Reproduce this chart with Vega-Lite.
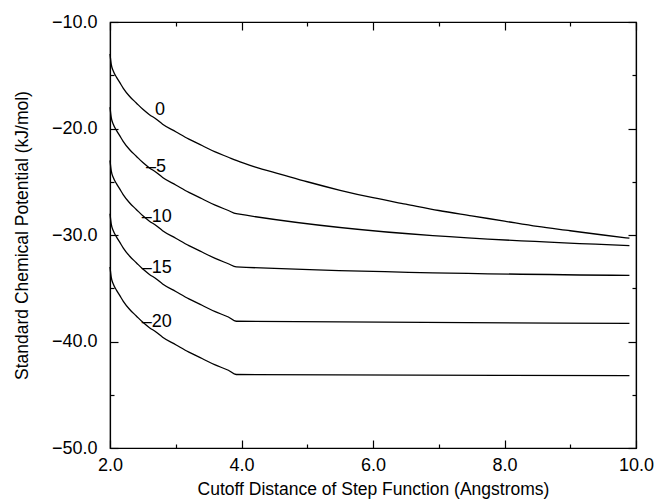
{
  "$schema": "https://vega.github.io/schema/vega-lite/v6.json",
  "autosize": "none",
  "width": 526,
  "height": 426,
  "padding": {"left": 110, "top": 22, "right": 18, "bottom": 51},
  "background": "white",
  "config": {
    "view": {"stroke": "black", "strokeWidth": 1.2},
    "font": "Liberation Sans",
    "axis": {
      "domainColor": "black",
      "domainWidth": 1.2,
      "tickColor": "black",
      "tickWidth": 1.2,
      "grid": false,
      "labelFont": "Liberation Sans",
      "labelFontSize": 18,
      "labelColor": "black",
      "titleFont": "Liberation Sans",
      "titleFontSize": 17.5,
      "titleFontWeight": "normal",
      "titleColor": "black",
      "labelFlush": false,
      "labelOverlap": false
    }
  },
  "datasets": {
    "curves": [
      {"s": "0", "x": 2.0, "y": -13.0},
      {"s": "0", "x": 2.02, "y": -14.0},
      {"s": "0", "x": 2.05, "y": -14.6},
      {"s": "0", "x": 2.1, "y": -15.2},
      {"s": "0", "x": 2.15, "y": -15.7},
      {"s": "0", "x": 2.2, "y": -16.2},
      {"s": "0", "x": 2.3, "y": -17.0},
      {"s": "0", "x": 2.4, "y": -17.6},
      {"s": "0", "x": 2.5, "y": -18.2},
      {"s": "0", "x": 2.6, "y": -18.7},
      {"s": "0", "x": 2.7, "y": -19.1},
      {"s": "0", "x": 2.8, "y": -19.6},
      {"s": "0", "x": 3.0, "y": -20.3},
      {"s": "0", "x": 3.2, "y": -21.0},
      {"s": "0", "x": 3.4, "y": -21.6},
      {"s": "0", "x": 3.6, "y": -22.2},
      {"s": "0", "x": 3.8, "y": -22.7},
      {"s": "0", "x": 3.92, "y": -23.0},
      {"s": "0", "x": 4.2, "y": -23.6},
      {"s": "0", "x": 4.6, "y": -24.3},
      {"s": "0", "x": 5.0, "y": -25.0},
      {"s": "0", "x": 5.5, "y": -25.8},
      {"s": "0", "x": 6.0, "y": -26.5},
      {"s": "0", "x": 6.5, "y": -27.1},
      {"s": "0", "x": 7.0, "y": -27.7},
      {"s": "0", "x": 7.5, "y": -28.2},
      {"s": "0", "x": 8.0, "y": -28.7},
      {"s": "0", "x": 8.5, "y": -29.2},
      {"s": "0", "x": 9.0, "y": -29.6},
      {"s": "0", "x": 9.5, "y": -30.0},
      {"s": "0", "x": 9.9, "y": -30.3},

      {"s": "-5", "x": 2.0, "y": -18.0},
      {"s": "-5", "x": 2.02, "y": -19.0},
      {"s": "-5", "x": 2.05, "y": -19.6},
      {"s": "-5", "x": 2.1, "y": -20.2},
      {"s": "-5", "x": 2.15, "y": -20.7},
      {"s": "-5", "x": 2.2, "y": -21.2},
      {"s": "-5", "x": 2.3, "y": -22.0},
      {"s": "-5", "x": 2.4, "y": -22.6},
      {"s": "-5", "x": 2.5, "y": -23.2},
      {"s": "-5", "x": 2.6, "y": -23.7},
      {"s": "-5", "x": 2.7, "y": -24.1},
      {"s": "-5", "x": 2.8, "y": -24.6},
      {"s": "-5", "x": 3.0, "y": -25.3},
      {"s": "-5", "x": 3.2, "y": -26.0},
      {"s": "-5", "x": 3.4, "y": -26.6},
      {"s": "-5", "x": 3.6, "y": -27.2},
      {"s": "-5", "x": 3.8, "y": -27.7},
      {"s": "-5", "x": 3.92, "y": -28.0},
      {"s": "-5", "x": 9.9, "y": -31.0},

      {"s": "-10", "x": 2.0, "y": -23.0},
      {"s": "-10", "x": 2.02, "y": -24.0},
      {"s": "-10", "x": 2.05, "y": -24.6},
      {"s": "-10", "x": 2.1, "y": -25.2},
      {"s": "-10", "x": 2.15, "y": -25.7},
      {"s": "-10", "x": 2.2, "y": -26.2},
      {"s": "-10", "x": 2.3, "y": -27.0},
      {"s": "-10", "x": 2.4, "y": -27.6},
      {"s": "-10", "x": 2.5, "y": -28.2},
      {"s": "-10", "x": 2.6, "y": -28.7},
      {"s": "-10", "x": 2.7, "y": -29.1},
      {"s": "-10", "x": 2.8, "y": -29.6},
      {"s": "-10", "x": 3.0, "y": -30.3},
      {"s": "-10", "x": 3.2, "y": -31.0},
      {"s": "-10", "x": 3.4, "y": -31.6},
      {"s": "-10", "x": 3.6, "y": -32.2},
      {"s": "-10", "x": 3.8, "y": -32.7},
      {"s": "-10", "x": 3.92, "y": -33.0},
      {"s": "-10", "x": 9.9, "y": -33.8},

      {"s": "-15", "x": 2.0, "y": -28.0},
      {"s": "-15", "x": 2.02, "y": -29.0},
      {"s": "-15", "x": 2.05, "y": -29.6},
      {"s": "-15", "x": 2.1, "y": -30.2},
      {"s": "-15", "x": 2.15, "y": -30.7},
      {"s": "-15", "x": 2.2, "y": -31.2},
      {"s": "-15", "x": 2.3, "y": -32.0},
      {"s": "-15", "x": 2.4, "y": -32.6},
      {"s": "-15", "x": 2.5, "y": -33.2},
      {"s": "-15", "x": 2.6, "y": -33.7},
      {"s": "-15", "x": 2.7, "y": -34.1},
      {"s": "-15", "x": 2.8, "y": -34.6},
      {"s": "-15", "x": 3.0, "y": -35.3},
      {"s": "-15", "x": 3.2, "y": -36.0},
      {"s": "-15", "x": 3.4, "y": -36.6},
      {"s": "-15", "x": 3.6, "y": -37.2},
      {"s": "-15", "x": 3.8, "y": -37.7},
      {"s": "-15", "x": 3.92, "y": -38.1},
      {"s": "-15", "x": 9.9, "y": -38.3},

      {"s": "-20", "x": 2.0, "y": -33.0},
      {"s": "-20", "x": 2.02, "y": -34.0},
      {"s": "-20", "x": 2.05, "y": -34.6},
      {"s": "-20", "x": 2.1, "y": -35.2},
      {"s": "-20", "x": 2.15, "y": -35.7},
      {"s": "-20", "x": 2.2, "y": -36.2},
      {"s": "-20", "x": 2.3, "y": -37.0},
      {"s": "-20", "x": 2.4, "y": -37.6},
      {"s": "-20", "x": 2.5, "y": -38.2},
      {"s": "-20", "x": 2.6, "y": -38.7},
      {"s": "-20", "x": 2.7, "y": -39.1},
      {"s": "-20", "x": 2.8, "y": -39.6},
      {"s": "-20", "x": 3.0, "y": -40.3},
      {"s": "-20", "x": 3.2, "y": -41.0},
      {"s": "-20", "x": 3.4, "y": -41.6},
      {"s": "-20", "x": 3.6, "y": -42.2},
      {"s": "-20", "x": 3.8, "y": -42.7},
      {"s": "-20", "x": 3.92, "y": -43.1},
      {"s": "-20", "x": 9.9, "y": -43.2}
    ],
    "labels": [
      {"label": "0", "x": 2.76, "y": -18.3},
      {"label": "–5", "x": 2.70, "y": -23.6},
      {"label": "–10", "x": 2.71, "y": -28.3},
      {"label": "–15", "x": 2.71, "y": -33.1},
      {"label": "–20", "x": 2.71, "y": -38.2}
    ]
  },
  "layer": [
    {
      "data": {"name": "curves"},
      "mark": {"type": "line", "color": "black", "strokeWidth": 1.3, "interpolate": "monotone"},
      "encoding": {
        "x": {
          "field": "x", "type": "quantitative",
          "scale": {"domain": [2, 10], "nice": false, "zero": false},
          "axis": {
            "orient": "bottom",
            "title": "Cutoff Distance of Step Function (Angstroms)",
            "values": [2, 3, 4, 5, 6, 7, 8, 9, 10],
            "labelExpr": "datum.value % 2 === 0 ? format(datum.value, '.1f') : ''",
            "tickSize": {"condition": {"test": "datum.value % 2 === 0", "value": -8}, "value": -4},
            "labelPadding": 16,
            "titlePadding": 2
          }
        },
        "y": {
          "field": "y", "type": "quantitative",
          "scale": {"domain": [-50, -10], "nice": false, "zero": false},
          "axis": {
            "orient": "left",
            "title": "Standard Chemical Potential (kJ/mol)",
            "values": [-50, -45, -40, -35, -30, -25, -20, -15, -10],
            "labelExpr": "datum.value % 10 === 0 ? format(datum.value, '.1f') : ''",
            "tickSize": {"condition": {"test": "datum.value % 10 === 0", "value": -8}, "value": -4},
            "labelPadding": 21,
            "titlePadding": 20
          }
        },
        "detail": {"field": "s"}
      }
    },
    {
      "data": {"name": "labels"},
      "mark": {"type": "text", "font": "Liberation Sans", "fontSize": 18, "color": "black"},
      "encoding": {
        "x": {
          "field": "x", "type": "quantitative",
          "axis": {
            "orient": "top", "title": null, "labels": false,
            "values": [2, 3, 4, 5, 6, 7, 8, 9, 10],
            "tickSize": {"condition": {"test": "datum.value % 2 === 0", "value": -8}, "value": -4}
          }
        },
        "y": {
          "field": "y", "type": "quantitative",
          "axis": {
            "orient": "right", "title": null, "labels": false,
            "values": [-50, -45, -40, -35, -30, -25, -20, -15, -10],
            "tickSize": {"condition": {"test": "datum.value % 10 === 0", "value": -8}, "value": -4}
          }
        },
        "text": {"field": "label"}
      }
    }
  ],
  "resolve": {"axis": {"x": "independent", "y": "independent"}}
}
